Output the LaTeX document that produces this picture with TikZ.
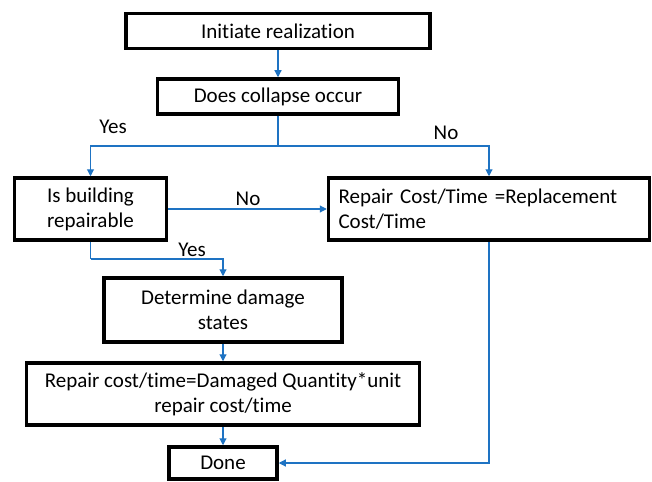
\documentclass[tikz,border=0pt]{standalone}
\usepackage{fontspec}
\setmainfont{Carlito}[Ligatures=NoCommon]
\usetikzlibrary{arrows.meta}

\definecolor{linkblue}{RGB}{30,115,195}

\tikzset{
  box/.style={draw=black, line width=3.5pt, fill=white, inner sep=0pt,
    align=center, font=\fontsize{21}{25}\selectfont},
  wire/.style={draw=linkblue, line width=1.1pt},
  link/.style={wire, -{Triangle[width=7pt,length=7pt]}},
  tag/.style={font=\fontsize{21}{25}\selectfont}
}

\begin{document}
\begin{tikzpicture}[x=1pt,y=-1pt]
\useasboundingbox (0,0) rectangle (652,481);

%% boxes
\node[box, minimum width=304, minimum height=35] (init) at (278,31) {Initiate realization};
\node[box, minimum width=241, minimum height=35] (collapse) at (278,96.5) {Does collapse occur};
\node[box, minimum width=152, minimum height=62] (repairable) at (90.5,209) {Is building\\repairable};
\node[box, minimum width=321, minimum height=62, text width=301, align=left] (replace) at (489,209) {Repair Cost/Time =Replacement\\Cost/Time};
\node[box, minimum width=238, minimum height=64] (states) at (223,310) {Determine damage\\states};
\node[box, minimum width=393, minimum height=62] (repaircost) at (223,394) {Repair cost/time=Damaged Quantity*unit\\repair cost/time};
\node[box, minimum width=108, minimum height=32] (done) at (223,463) {Done};

%% labels
\node[tag] (yes1) at (113,127) {Yes};
\node[tag] (no1) at (446,133) {No};
\node[tag] (no2) at (248,199) {No};
\node[tag] (yes2) at (192,250) {Yes};

%% links
\coordinate (split) at (278,146);
\coordinate (bend) at (90.5,259);
\draw[link] (init) -- (collapse);
\draw[wire] (collapse.south) -- (split);
\draw[link] (split) -| (repairable.north);
\draw[link] (split) -| (replace.north);
\draw[link] (repairable) -- (replace);
\draw[wire] (repairable.south) -- (bend);
\draw[link] (bend) -| (states.north);
\draw[link] (states) -- (repaircost);
\draw[link] (repaircost) -- (done);
\draw[link] (replace.south) |- (done.east);
\end{tikzpicture}
\end{document}
